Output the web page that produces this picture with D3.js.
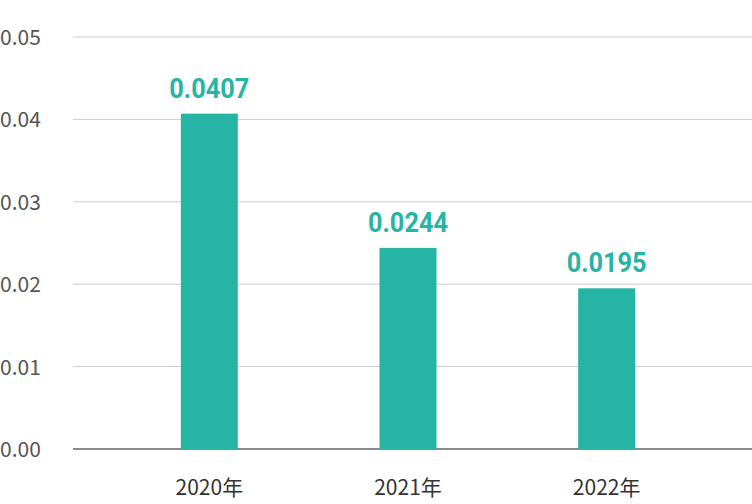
<!DOCTYPE html>
<html><head><meta charset="utf-8">
<script src="https://cdn.jsdelivr.net/npm/d3@7"></script>
<style>body{margin:0;background:#fff}</style>
</head><body>
<svg id="c" width="752" height="504"></svg>
<script>
const categories = ["2020年","2021年","2022年"];
const values = [0.0407, 0.0244, 0.0195];
const yTicks = [0, 0.01, 0.02, 0.03, 0.04, 0.05];

const svg = d3.select("#c");
const y = d3.scaleLinear().domain([0,0.05]).range([449,37]);
const x = d3.scaleBand().domain(categories).range([110,706]).padding(0);
const bw = 57;
const font = "'Noto Sans CJK SC','Noto Sans',sans-serif";

svg.selectAll(".g").data(yTicks).enter().append("line")
  .attr("x1",73).attr("x2",752).attr("y1",d=>y(d)).attr("y2",d=>y(d))
  .attr("stroke",d=>d===0?"#666":"#ccc").attr("stroke-width",d=>d===0?1.5:1);
svg.selectAll(".yt").data(yTicks).enter().append("text")
  .attr("x",0).attr("y",d=>y(d)+8).text(d=>d.toFixed(2))
  .attr("font-family",font).attr("font-size",21).attr("fill","#555");

svg.selectAll(".b").data(values).enter().append("rect")
  .attr("x",(d,i)=>x(categories[i])+x.bandwidth()/2-bw/2)
  .attr("width",bw).attr("y",d=>y(d)).attr("height",d=>y(0)-y(d))
  .attr("fill","#26b5a4");
svg.selectAll(".v").data(values).enter().append("text")
  .attr("x",(d,i)=>x(categories[i])+x.bandwidth()/2)
  .attr("y",d=>y(d)-16).attr("text-anchor","middle").text(d=>d.toFixed(4))
  .attr("font-family","Roboto,sans-serif").attr("font-weight","bold")
  .attr("font-size",27).attr("fill","#26b5a4").attr("textLength",80).attr("lengthAdjust","spacingAndGlyphs");
svg.selectAll(".xt").data(categories).enter().append("text")
  .attr("x",d=>x(d)+x.bandwidth()/2).attr("y",495).attr("text-anchor","middle").text(d=>d)
  .attr("font-family",font).attr("font-size",21).attr("fill","#333");
</script>
</body></html>
